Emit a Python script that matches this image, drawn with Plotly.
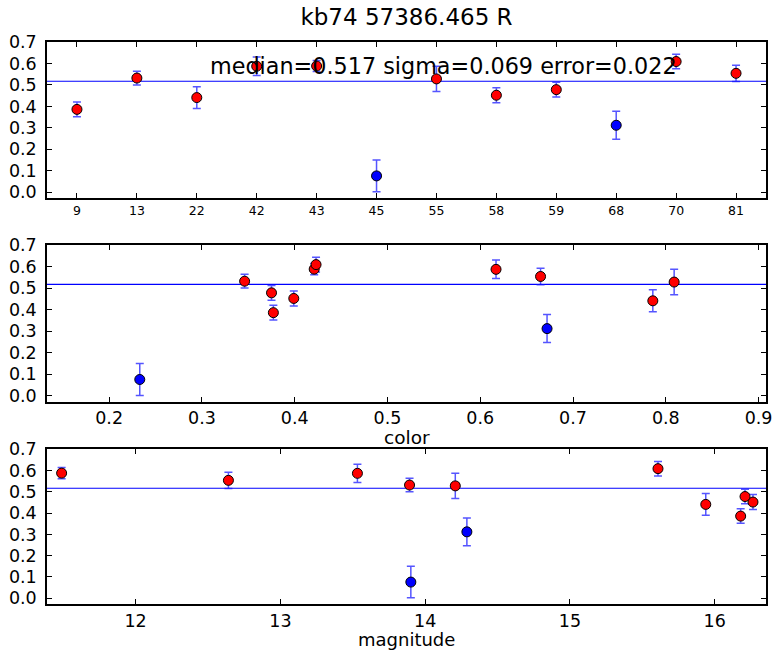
import plotly.graph_objects as go
from plotly.subplots import make_subplots

# ---- data ----
star_ids = ["9", "13", "22", "42", "43", "45", "55", "58", "59", "68", "70", "81"]
zeropoints = [0.386, 0.532, 0.441, 0.587, 0.588, 0.076, 0.528, 0.452, 0.478, 0.312, 0.609, 0.554]
zp_errors = [0.034, 0.032, 0.051, 0.043, 0.026, 0.074, 0.059, 0.035, 0.034, 0.065, 0.034, 0.038]
star_colors = [0.377, 0.346, 0.786, 0.617, 0.421, 0.233, 0.809, 0.399, 0.375, 0.672, 0.423, 0.665]
star_mags = [16.179, 13.892, 15.938, 13.532, 11.489, 13.901, 14.208, 16.264, 16.209, 14.288, 15.608, 12.641]
is_outlier = [False, False, False, False, False, True, False, False, False, True, False, False]

median_val = 0.517
sigma_val = 0.069
error_val = 0.022
title_text = "kb74 57386.465 R"

FONT = "DejaVu Sans"
ERR_COLOR = "rgba(20,20,255,0.72)"

fig = make_subplots(rows=3, cols=1, vertical_spacing=0.0)

def split(xs, flag):
    return [x for x, o in zip(xs, is_outlier) if o == flag]

xsets = [star_ids, star_colors, star_mags]
for row, xs in enumerate(xsets, start=1):
    for flag, fill in ((False, "red"), (True, "blue")):
        fig.add_trace(go.Scatter(
            x=split(xs, flag), y=split(zeropoints, flag),
            mode="markers",
            marker=dict(size=10, color=fill, line=dict(color="black", width=1)),
            error_y=dict(type="data", array=split(zp_errors, flag), visible=True,
                         color=ERR_COLOR, thickness=1.5, width=4),
            showlegend=False, hoverinfo="x+y",
        ), row=row, col=1)
    fig.add_shape(type="line", xref=f"x{'' if row == 1 else row} domain",
                  yref=f"y{'' if row == 1 else row}",
                  x0=0, x1=1, y0=median_val, y1=median_val,
                  line=dict(color="blue", width=1.2), layer="below")

# domains (pixel-matched)
fig.update_layout(
    yaxis=dict(domain=[0.7224, 1.0]),
    yaxis2=dict(domain=[0.3600, 0.6388]),
    yaxis3=dict(domain=[0.0, 0.2753]),
)

common_axis = dict(showline=True, linecolor="black", linewidth=1.5, mirror="ticks",
                   ticks="inside", ticklen=5, tickwidth=1, tickcolor="black",
                   showgrid=False, zeroline=False)

TICK_SIZE = 17.5
for r in (1, 2, 3):
    fig.update_yaxes(range=[-0.027, 0.7], dtick=0.1, tick0=0, tickformat=".1f",
                     tickfont=dict(family=FONT, size=TICK_SIZE, color="black"),
                     ticklabelstandoff=5, row=r, col=1, **common_axis)

fig.update_xaxes(type="category", range=[-0.5, 11.5], categoryorder="array",
                 categoryarray=star_ids,
                 tickfont=dict(family=FONT, size=12.5, color="black"),
                 row=1, col=1, **common_axis)
fig.update_xaxes(range=[0.133, 0.908], dtick=0.1, tick0=0, tickformat=".1f",
                 tickfont=dict(family=FONT, size=TICK_SIZE, color="black"),
                 row=2, col=1, **common_axis)
fig.update_xaxes(range=[11.388, 16.354], dtick=1, tick0=0,
                 tickfont=dict(family=FONT, size=TICK_SIZE, color="black"),
                 row=3, col=1, **common_axis)

annotations = [
    dict(text=f"median={median_val:.3f} sigma={sigma_val:.3f} error={error_val:.3f}",
         xref="x", yref="y", x=2.18, y=0.59, xanchor="left", yanchor="middle",
         showarrow=False, font=dict(family=FONT, size=22.3, color="black")),
    dict(text="color", xref="paper", yref="paper", x=0.5, y=0.3600, yshift=-36,
         xanchor="center", yanchor="middle", showarrow=False,
         font=dict(family=FONT, size=18.5, color="black")),
    dict(text="magnitude", xref="paper", yref="paper", x=0.5, y=0, yshift=-35,
         xanchor="center", yanchor="middle", showarrow=False,
         font=dict(family=FONT, size=18, color="black")),
]

fig.update_layout(
    width=777, height=650,
    margin=dict(l=47, r=5, t=42, b=46),
    paper_bgcolor="white", plot_bgcolor="white",
    title=dict(text=title_text, x=0.5, xref="paper", y=1 - 17 / 650,
               yref="container", xanchor="center", yanchor="middle",
               font=dict(family=FONT, size=23, color="black")),
    annotations=annotations,
    showlegend=False,
)

fig.write_html("out.html")
